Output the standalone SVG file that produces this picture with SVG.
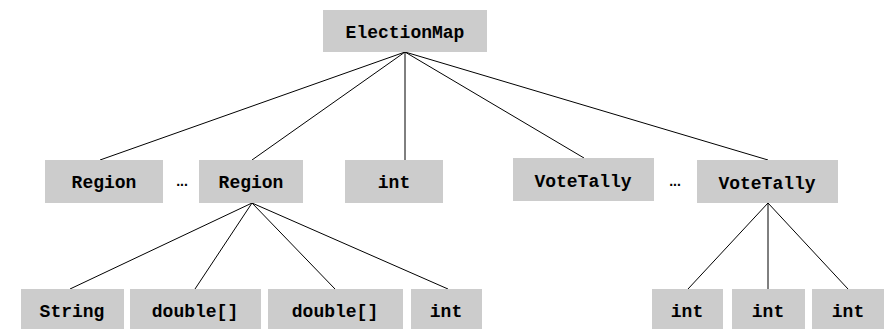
<svg xmlns="http://www.w3.org/2000/svg" width="890" height="330" viewBox="0 0 890 330">
  <style>
    .box { fill: #cccccc; }
    .lbl { font-family: "Liberation Mono", "Courier New", monospace; font-weight: bold; font-size: 18px; fill: #000; text-anchor: middle; }
    .dots { font-family: "Liberation Sans", Arial, sans-serif; font-weight: bold; font-size: 14px; fill: #000; text-anchor: middle; }
    .edge { stroke: #000; stroke-width: 1; fill: none; }
  </style>
  <rect width="890" height="330" fill="#ffffff"/>

  <g id="connectors">
    <line class="edge" x1="405" y1="52" x2="100" y2="160"/>
    <line class="edge" x1="405" y1="52" x2="252" y2="160"/>
    <line class="edge" x1="405" y1="52" x2="405" y2="160"/>
    <line class="edge" x1="405" y1="52" x2="584" y2="158"/>
    <line class="edge" x1="405" y1="52" x2="768" y2="160"/>
    <line class="edge" x1="252" y1="203" x2="70" y2="289"/>
    <line class="edge" x1="252" y1="203" x2="195" y2="289"/>
    <line class="edge" x1="252" y1="203" x2="335" y2="289"/>
    <line class="edge" x1="252" y1="203" x2="448" y2="289"/>
    <line class="edge" x1="768" y1="203" x2="688" y2="289"/>
    <line class="edge" x1="768" y1="203" x2="768" y2="289"/>
    <line class="edge" x1="768" y1="203" x2="848" y2="289"/>
  </g>

  <g id="electionmap">
    <rect class="box" x="323" y="10" width="164" height="42"/>
    <text class="lbl" x="405" y="38">ElectionMap</text>
  </g>

  <g id="region1">
    <rect class="box" x="45" y="160" width="118" height="43"/>
    <text class="lbl" x="104" y="188">Region</text>
  </g>
  <text class="dots" x="182" y="186">...</text>
  <g id="region2">
    <rect class="box" x="199" y="160" width="104" height="43"/>
    <text class="lbl" x="251" y="188">Region</text>
  </g>
  <g id="int-count">
    <rect class="box" x="345" y="160" width="98" height="43"/>
    <text class="lbl" x="394" y="188">int</text>
  </g>
  <g id="votetally1">
    <rect class="box" x="513" y="158" width="141" height="43"/>
    <text class="lbl" x="583" y="187">VoteTally</text>
  </g>
  <text class="dots" x="675" y="186">...</text>
  <g id="votetally2">
    <rect class="box" x="697" y="160" width="141" height="43"/>
    <text class="lbl" x="767" y="189">VoteTally</text>
  </g>

  <g id="region-name">
    <rect class="box" x="21" y="289" width="103" height="40"/>
    <text class="lbl" x="72" y="317">String</text>
  </g>
  <g id="region-x">
    <rect class="box" x="130" y="289" width="131" height="40"/>
    <text class="lbl" x="195" y="317">double[]</text>
  </g>
  <g id="region-y">
    <rect class="box" x="268" y="289" width="135" height="40"/>
    <text class="lbl" x="335" y="317">double[]</text>
  </g>
  <g id="region-n">
    <rect class="box" x="411" y="289" width="71" height="40"/>
    <text class="lbl" x="446" y="317">int</text>
  </g>

  <g id="tally-a">
    <rect class="box" x="652" y="289" width="71" height="40"/>
    <text class="lbl" x="687" y="317">int</text>
  </g>
  <g id="tally-b">
    <rect class="box" x="732" y="289" width="73" height="40"/>
    <text class="lbl" x="768" y="317">int</text>
  </g>
  <g id="tally-c">
    <rect class="box" x="812" y="289" width="72" height="40"/>
    <text class="lbl" x="848" y="317">int</text>
  </g>
</svg>
